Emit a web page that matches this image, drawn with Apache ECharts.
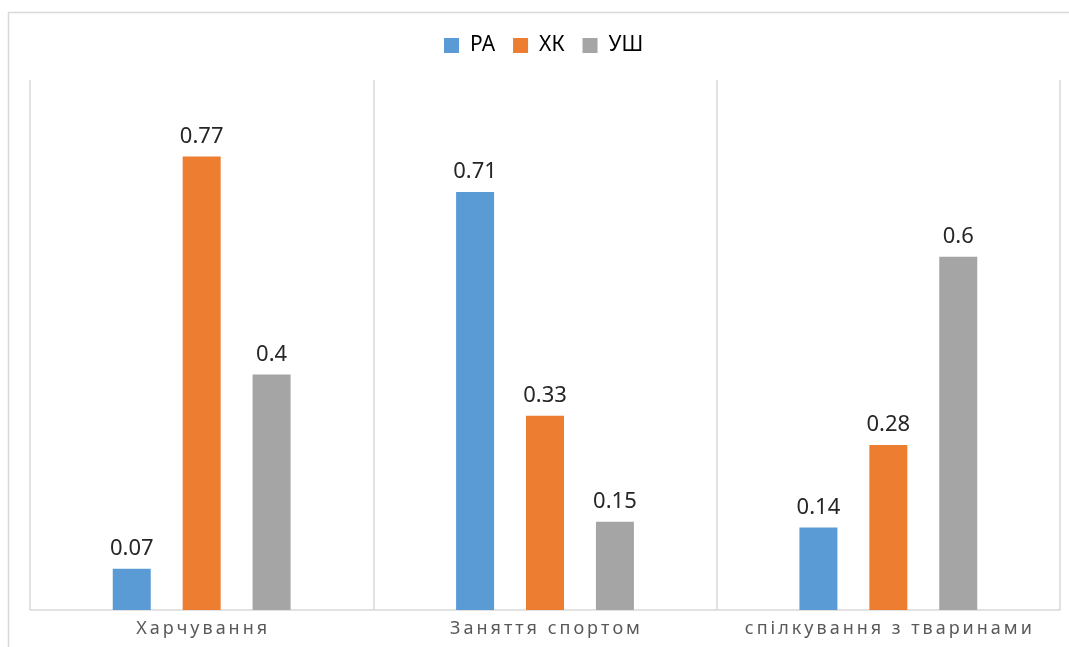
<!DOCTYPE html>
<html>
<head>
<meta charset="utf-8">
<script src="https://cdn.jsdelivr.net/npm/echarts@6/dist/echarts.min.js"></script>
<style>
  html, body { margin: 0; padding: 0; background: #ffffff; }
  #chart { width: 1069px; height: 647px; }
</style>
</head>
<body>
<div id="chart"></div>
<script>
const categories = ['Харчування', 'Заняття спортом', 'спілкування з тваринами'];
const seriesNames = ['РА', 'ХК', 'УШ'];
const valuesRA = [0.07, 0.71, 0.14];
const valuesXK = [0.77, 0.33, 0.28];
const valuesUSH = [0.4, 0.15, 0.6];
const seriesColors = ['#5b9bd5', '#ed7d31', '#a5a5a5'];

// spread the letters of the category labels out a little
function spaced(s) {
  return s.split('').join('\u2009');
}

const chart = echarts.init(document.getElementById('chart'), null, { renderer: 'canvas' });

const labelStyle = {
  show: true,
  position: 'top',
  distance: 9,
  fontFamily: 'Noto Sans',
  fontSize: 22,
  color: '#262626'
};

function makeSeries(name, data, color) {
  return {
    name: name,
    type: 'bar',
    data: data,
    barWidth: 38,
    barGap: '84%',
    itemStyle: { color: color },
    label: labelStyle
  };
}

chart.setOption({
  animation: false,
  backgroundColor: '#ffffff',
  graphic: [{
    type: 'rect',
    silent: true,
    shape: { x: 8.5, y: 12.5, width: 1200, height: 800 },
    style: { fill: 'none', stroke: '#d9d9d9', lineWidth: 1.5 }
  }],
  legend: {
    top: 30,
    left: 439,
    itemWidth: 15,
    itemHeight: 15,
    itemGap: 18,
    icon: 'rect',
    textStyle: { fontFamily: 'Noto Sans', fontSize: 21, color: '#000000', padding: [0, 0, 0, 6] },
    data: seriesNames
  },
  grid: { left: 30, right: 9, top: 80, bottom: 37, containLabel: false },
  xAxis: {
    type: 'category',
    data: categories,
    axisTick: { show: false },
    axisLine: { show: true, lineStyle: { color: '#d9d9d9', width: 1.5 } },
    splitLine: { show: true, interval: 0, lineStyle: { color: '#d9d9d9', width: 1.5 } },
    axisLabel: {
      interval: 0,
      hideOverlap: false,
      margin: 10,
      fontFamily: 'Noto Sans',
      fontSize: 18,
      color: '#595959',
      formatter: spaced
    }
  },
  yAxis: {
    type: 'value',
    min: 0,
    max: 0.9,
    show: false,
    splitLine: { show: false }
  },
  series: [
    makeSeries(seriesNames[0], valuesRA, seriesColors[0]),
    makeSeries(seriesNames[1], valuesXK, seriesColors[1]),
    makeSeries(seriesNames[2], valuesUSH, seriesColors[2])
  ]
});
</script>
</body>
</html>
